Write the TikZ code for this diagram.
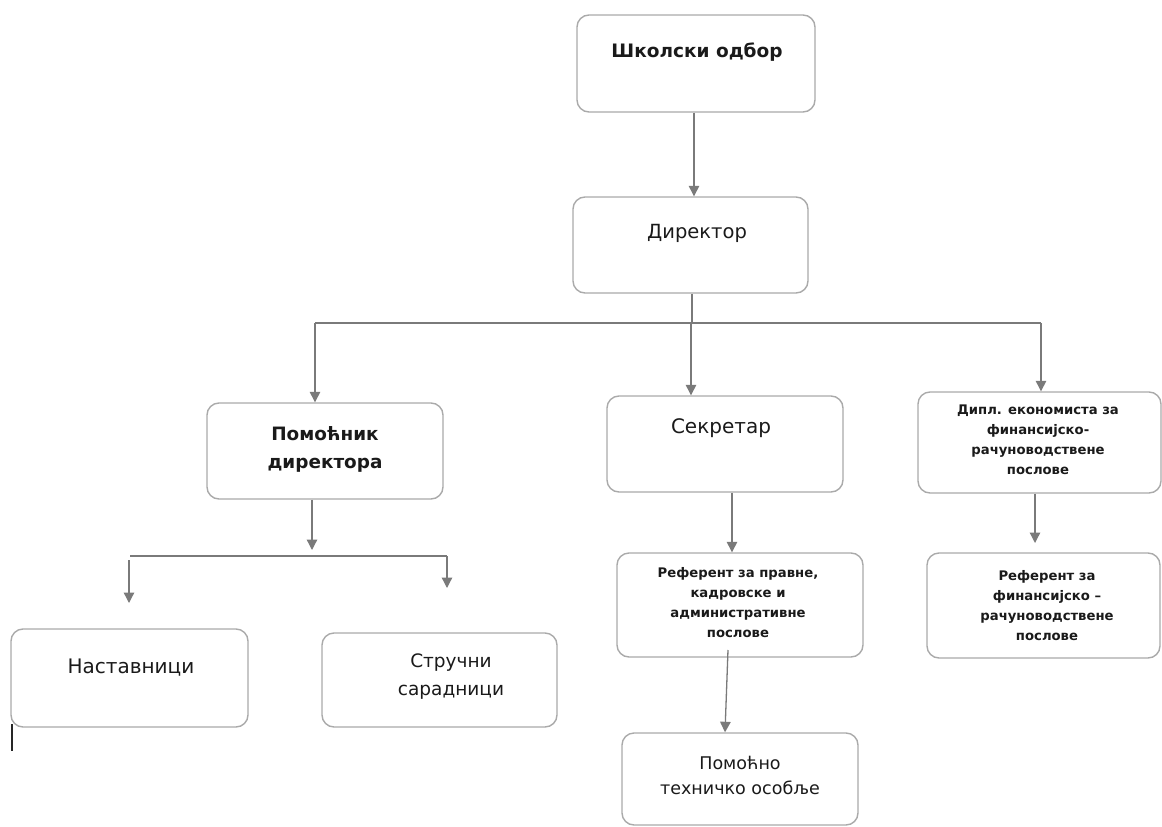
\documentclass[tikz,border=0pt]{standalone}
\usepackage{fontspec}
\setmainfont{DejaVu Sans}
\usetikzlibrary{arrows.meta}
\definecolor{boxgray}{HTML}{AAAAAA}
\definecolor{linegray}{HTML}{7A7A7A}
\definecolor{txtcol}{HTML}{1A1A1A}
\tikzset{
  orgbox/.style={draw=boxgray, line width=1.4pt, rounded corners=12pt, inner sep=0pt, fill=white},
  txt/.style={text=txtcol, align=center, inner sep=0pt},
  ln/.style={draw=linegray, line width=1.3pt},
  arr/.style={draw=linegray, line width=1.3pt, -{Triangle[width=10.5pt,length=10.5pt]}},
}
\newcommand{\fs}[2]{\fontsize{#1}{#2}\selectfont}
\begin{document}
\begin{tikzpicture}[x=1pt,y=-1pt]
\useasboundingbox (0,0) rectangle (1162,827);
% boxes
\node[orgbox, minimum width=238pt, minimum height=97pt] (sk) at (696,63.5) {};
\node[orgbox, minimum width=235pt, minimum height=96pt] (dir) at (690.5,245) {};
\node[orgbox, minimum width=236pt, minimum height=96pt] (pom) at (325,451) {};
\node[orgbox, minimum width=236pt, minimum height=96pt] (sek) at (725,444) {};
\node[orgbox, minimum width=243pt, minimum height=101pt] (dipl) at (1039.5,442.5) {};
\node[orgbox, minimum width=246pt, minimum height=104pt] (ref1) at (740,605) {};
\node[orgbox, minimum width=233pt, minimum height=105pt] (ref2) at (1043.5,605.5) {};
\node[orgbox, minimum width=237pt, minimum height=98pt] (nas) at (129.5,678) {};
\node[orgbox, minimum width=235pt, minimum height=94pt] (str) at (439.5,680) {};
\node[orgbox, minimum width=236pt, minimum height=92pt] (pmt) at (740,779) {};
% texts
\node[txt, font=\fs{18.5}{28}\bfseries] (skt) at (697,52) {Школски одбор};
\node[txt, font=\fs{19.5}{28}] (dirt) at (697,233) {Директор};
\node[txt, font=\fs{18.4}{28}\bfseries] (pomt) at (325,449) {Помоћник\\директора};
\node[txt, font=\fs{20}{28}] (sekt) at (721,428) {Секретар};
\node[txt, font=\fs{13.2}{20}\bfseries] (diplt) at (1038,440) {Дипл. економиста за\\финансијско-\\рачуноводствене\\послове};
\node[txt, font=\fs{13.2}{20}\bfseries] (ref1t) at (738,603) {Референт за правне,\\кадровске и\\административне\\послове};
\node[txt, font=\fs{13.2}{20}\bfseries] (ref2t) at (1047,606) {Референт за\\финансијско –\\рачуноводствене\\послове};
\node[txt, font=\fs{20}{28}] (nast) at (131,668) {Наставници};
\node[txt, font=\fs{18.5}{28}] (strt) at (451,677) {Стручни\\сарадници};
\node[txt, font=\fs{17.5}{25}] (pmtt) at (740,775) {Помоћно\\техничко особље};
% connector coordinates
\coordinate (bm) at (692,323);
\coordinate (bl) at (315,323);
\coordinate (bs) at (691,323);
\coordinate (br) at (1041,323);
\coordinate (p2) at (312,550);
\coordinate (c2l) at (130,556);
\coordinate (c2r) at (447,556);
\coordinate (c2lv) at (129,560);
\coordinate (nasT) at (129,603);
\coordinate (strT) at (447,588);
\coordinate (sx) at (732,0);
\coordinate (r1b) at (728,650);
\coordinate (pmx) at (725,0);
\coordinate (dx) at (1035,0);
\coordinate (dT) at (1035,543);
\coordinate (skx) at (694,0);
% connectors
\draw[arr] (sk.south -| skx) -- (dir.north -| skx);
\draw[ln] (dir.south -| bm) -- (bm);
\draw[ln] (bl) -- (br);
\draw[arr] (bl) -- (bl |- pom.north);
\draw[arr] (bs) -- (bs |- sek.north);
\draw[arr] (br) -- (br |- dipl.north);
\draw[arr] (pom.south -| p2) -- (p2);
\draw[ln] (c2l) -- (c2r);
\draw[arr] (c2lv) -- (nasT);
\draw[arr] (c2r) -- (strT);
\draw[arr] (sek.south -| sx) -- (ref1.north -| sx);
\draw[arr] (r1b) -- (pmt.north -| pmx);
\draw[arr] (dipl.south -| dx) -- (dT);
% stray scan mark
\draw[black!85, line width=1.5pt] (12,724) -- (12,751);
\end{tikzpicture}
\end{document}
